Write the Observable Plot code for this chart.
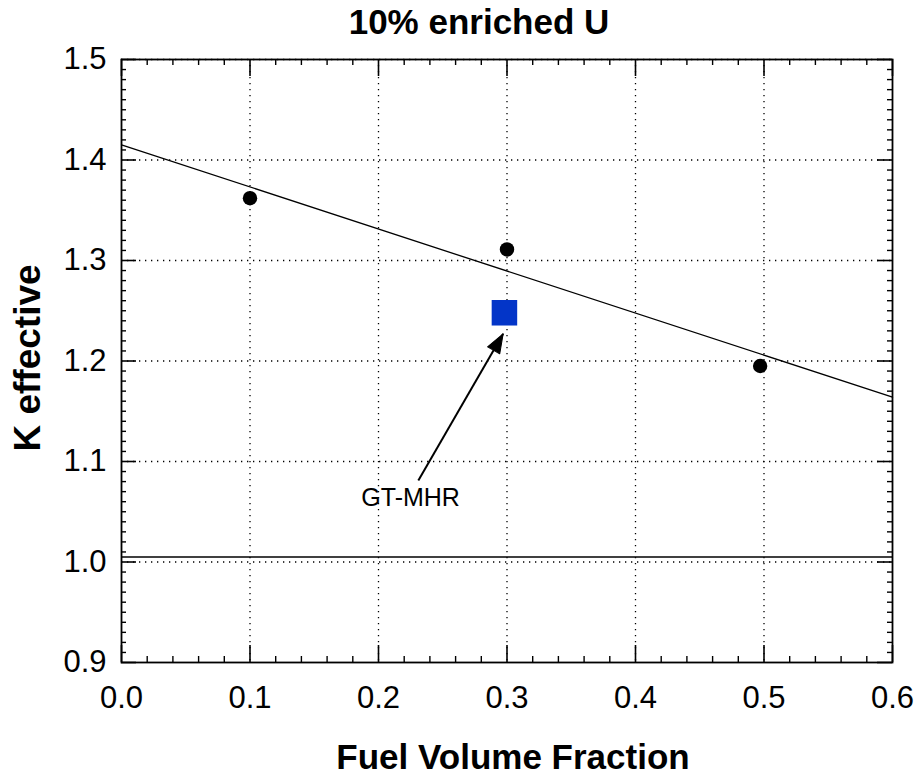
<!DOCTYPE html>
<html>
<head>
<meta charset="utf-8">
<script src="https://cdn.jsdelivr.net/npm/d3@7"></script>
<script src="https://cdn.jsdelivr.net/npm/@observablehq/plot@0.6"></script>
<style>
  html, body { margin: 0; padding: 0; background: #fff; }
  #chart { width: 922px; height: 776px; }
</style>
</head>
<body>
<div id="chart"></div>
<script>
// ---- data ----
const titleText = "10% enriched U";
const xLabel = "Fuel Volume Fraction";
const yLabel = "K effective";

const calcX = [0.1, 0.3, 0.497];          // fuel volume fraction of computed points
const calcK = [1.362, 1.311, 1.195];      // k-effective of computed points

const gtX = [0.298];                      // GT-MHR reference point
const gtK = [1.248];

const fitX = [0.0, 0.6];                  // fitted line end points
const fitK = [1.415, 1.164];

const xTicks = [0.0, 0.1, 0.2, 0.3, 0.4, 0.5, 0.6];
const yTicks = [0.9, 1.0, 1.1, 1.2, 1.3, 1.4, 1.5];
const xGrid = [0.1, 0.2, 0.3, 0.4, 0.5];
const yGrid = [1.0, 1.1, 1.2, 1.3, 1.4, 1.5];
const unityK = [1.0];

const annText = ["GT-MHR"];
const annTextX = [0.225], annTextK = [1.064];
const arrowFromX = [0.231], arrowFromK = [1.081];
const arrowToX = [0.297], arrowToK = [1.227];

// ---- build tables ----
const calc = calcX.map((x, i) => ({x, k: calcK[i]}));
const gt = gtX.map((x, i) => ({x, k: gtK[i]}));
const fit = fitX.map((x, i) => ({x, k: fitK[i]}));
const arrows = arrowFromX.map((x, i) => ({x1: x, y1: arrowFromK[i], x2: arrowToX[i], y2: arrowToK[i]}));
const ann = annText.map((t, i) => ({t, x: annTextX[i], k: annTextK[i]}));

const xMinor = d3.range(0, 0.6001, 0.02).filter(v => Math.abs(v * 10 - Math.round(v * 10)) > 1e-6);
const yMinor = d3.range(0.9, 1.5001, 0.01).filter(v => Math.abs(v * 10 - Math.round(v * 10)) > 1e-6);

const W = 922, H = 776, mL = 121, mR = 30, mT = 59, mB = 114;
const fw = W - mL - mR, fh = H - mT - mB;
const font = "'Liberation Sans', Arial, Helvetica, sans-serif";
const dotted = "1.3,4.7";

const headShape = {
  draw(ctx, l) {
    ctx.moveTo(0, 0);
    ctx.lineTo(-7, l);
    ctx.lineTo(7, l);
    ctx.closePath();
  }
};

const chart = Plot.plot({
  width: W,
  height: H,
  marginLeft: mL,
  marginRight: mR,
  marginTop: mT,
  marginBottom: mB,
  style: {fontFamily: font, background: "#fff", color: "#000", overflow: "visible"},
  x: {domain: [0, 0.6]},
  y: {domain: [0.9, 1.5]},
  marks: [
    // dotted grid
    Plot.ruleX(xGrid, {stroke: "#000", strokeWidth: 1.3, strokeDasharray: dotted}),
    Plot.ruleY(yGrid, {stroke: "#000", strokeWidth: 1.3, strokeDasharray: dotted}),
    // solid k = 1 line
    Plot.ruleY(unityK, {stroke: "#000", strokeWidth: 1.3, dy: -5}),
    // inward ticks: left / right
    Plot.tickY(yTicks, {stroke: "#000", strokeWidth: 1.6, insetRight: fw - 15}),
    Plot.tickY(yMinor, {stroke: "#000", strokeWidth: 1.4, insetRight: fw - 5}),
    Plot.tickY(yTicks, {stroke: "#000", strokeWidth: 1.6, insetLeft: fw - 15}),
    Plot.tickY(yMinor, {stroke: "#000", strokeWidth: 1.4, insetLeft: fw - 5}),
    // inward ticks: bottom / top
    Plot.tickX(xTicks, {stroke: "#000", strokeWidth: 1.6, insetTop: fh - 17}),
    Plot.tickX(xMinor, {stroke: "#000", strokeWidth: 1.4, insetTop: fh - 6}),
    Plot.tickX(xTicks, {stroke: "#000", strokeWidth: 1.6, insetBottom: fh - 17}),
    Plot.tickX(xMinor, {stroke: "#000", strokeWidth: 1.4, insetBottom: fh - 6}),
    Plot.frame({stroke: "#000", strokeWidth: 1.8}),
    // axes labels
    Plot.axisX({ticks: xTicks, tickSize: 0, tickPadding: 23, fontSize: 31, tickFormat: d3.format(".1f"), label: null}),
    Plot.axisY({ticks: yTicks, tickSize: 0, tickPadding: 15, fontSize: 31, tickFormat: d3.format(".1f"), label: null}),
    // fitted line
    Plot.line(fit, {x: "x", y: "k", stroke: "#000", strokeWidth: 1.3}),
    // computed points
    Plot.dot(calc, {x: "x", y: "k", r: 7.2, fill: "#000", stroke: "none"}),
    // GT-MHR point
    Plot.dot(gt, {x: "x", y: "k", symbol: "square", r: 14.4, fill: "#0335C8", stroke: "none"}),
    // arrow
    Plot.link(arrows, {x1: "x1", y1: "y1", x2: "x2", y2: "y2", stroke: "#000", strokeWidth: 2}),
    Plot.vector(arrows, {x: "x2", y: "y2", rotate: 30, length: 19, anchor: "start", shape: headShape, fill: "#000", stroke: "#000", strokeWidth: 1}),
    Plot.text(ann, {x: "x", y: "k", text: "t", fontSize: 25, fill: "#000", lineAnchor: "middle", textAnchor: "middle"}),
    // title and axis titles
    Plot.text([titleText], {text: d => d, frameAnchor: "top", textAnchor: "middle", dx: -28, dy: -37, lineAnchor: "middle", fontSize: 35, fontWeight: "bold", fill: "#000"}),
    Plot.text([xLabel], {text: d => d, frameAnchor: "bottom", textAnchor: "middle", dx: 6, dy: 95, lineAnchor: "middle", fontSize: 35, fontWeight: "bold", fill: "#000"}),
    Plot.text([yLabel], {text: d => d, frameAnchor: "left", textAnchor: "middle", dx: -93, dy: -3, rotate: -90, lineAnchor: "middle", fontSize: 37, fontWeight: "bold", fill: "#000"})
  ]
});

document.getElementById("chart").appendChild(chart);
</script>
</body>
</html>
